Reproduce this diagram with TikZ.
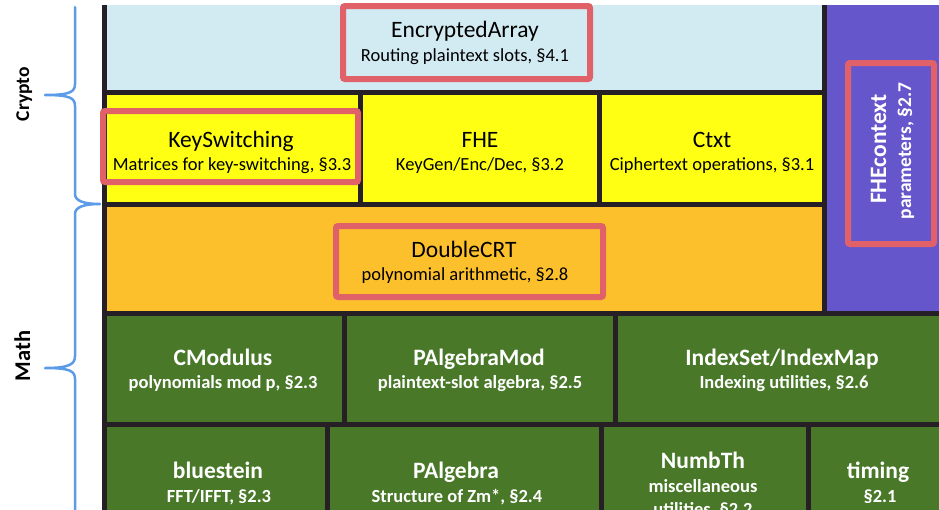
\documentclass[tikz,border=0pt]{standalone}
\usepackage{fontspec}
\setmainfont{Carlito}
\definecolor{dark}{RGB}{38,32,38}
\definecolor{lblue}{RGB}{210,234,242}
\definecolor{ylw}{RGB}{255,255,20}
\definecolor{orng}{RGB}{252,192,45}
\definecolor{purp}{RGB}{102,86,204}
\definecolor{grn}{RGB}{72,120,40}
\definecolor{redb}{RGB}{224,98,104}
\definecolor{brc}{RGB}{92,155,232}
\begin{document}
\begin{tikzpicture}[x=1pt,y=-1pt,
  blk/.style={draw=dark,line width=5pt},
  redbox/.style={draw=redb,line width=6pt,rounded corners=2pt},
  brace/.style={draw=brc,line width=2.5pt,line cap=round,line join=round},
  ttl/.style={anchor=base,inner sep=0pt,font=\fontsize{23.5}{28}\selectfont},
  sub/.style={anchor=base,inner sep=0pt,font=\fontsize{18.5}{22}\selectfont},
  wttl/.style={anchor=base,inner sep=0pt,text=white,font=\bfseries\fontsize{23.5}{28}\selectfont},
  wsub/.style={anchor=base,inner sep=0pt,text=white,font=\bfseries\fontsize{18.5}{22}\selectfont},
  lbl/.style={anchor=base,inner sep=0pt,rotate=90}]
\useasboundingbox (0,0) rectangle (939,509);
\begin{scope}
\clip (0,5) rectangle (939,509);
\draw[blk,fill=lblue] (104,-10) rectangle (824,92);
\draw[blk,fill=purp] (824,-10) rectangle (960,313);
\draw[blk,fill=ylw] (104,92) rectangle (360,204);
\draw[blk,fill=ylw] (360,92) rectangle (599,204);
\draw[blk,fill=ylw] (599,92) rectangle (824,204);
\draw[blk,fill=orng] (104,204) rectangle (824,313);
\draw[blk,fill=grn] (104,313) rectangle (344,424);
\draw[blk,fill=grn] (344,313) rectangle (615,424);
\draw[blk,fill=grn] (615,313) rectangle (960,424);
\draw[blk,fill=grn] (104,424) rectangle (327,530);
\draw[blk,fill=grn] (327,424) rectangle (601,530);
\draw[blk,fill=grn] (601,424) rectangle (808,530);
\draw[blk,fill=grn] (808,424) rectangle (960,530);
\end{scope}
% highlighted boxes
\draw[redbox] (343,6) rectangle (590,79);
\draw[redbox] (103,111) rectangle (358,182);
\draw[redbox] (336,226) rectangle (603,297);
\draw[redbox] (848,63) rectangle (934,244);
% braces
\draw[brace] (75,7) -- (75,84) .. controls (75,92) and (70,95) .. (45,95)
  .. controls (70,95) and (75,98) .. (75,106) -- (75,194)
  .. controls (75,201) and (84,204) .. (100,204)
  .. controls (84,204) and (75,207) .. (75,214) -- (75,356)
  .. controls (75,364) and (70,368) .. (45,368)
  .. controls (70,368) and (75,371) .. (75,379) -- (75,512);
\node[lbl,font=\bfseries\fontsize{19.5}{22}\selectfont] (crypto) at (29,94) {Crypto};
\node[lbl,font=\bfseries\fontsize{22.5}{26}\selectfont] (math) at (30,356) {Math};
% texts
\node[ttl] (ea) at (465,37) {EncryptedArray};
\node[sub] (eas) at (465,61) {Routing plaintext slots, §4.1};
\node[ttl] (ks) at (231,147) {KeySwitching};
\node[sub] (kss) at (232,170) {Matrices for key-switching, §3.3};
\node[ttl] (fhe) at (480,147) {FHE};
\node[sub] (fhes) at (480,170) {KeyGen/Enc/Dec, §3.2};
\node[ttl] (ctxt) at (712,147) {Ctxt};
\node[sub] (ctxts) at (712,170) {Ciphertext operations, §3.1};
\node[ttl] (dcrt) at (464,257) {DoubleCRT};
\node[sub] (dcrts) at (465,280) {polynomial arithmetic, §2.8};
\node[wttl,rotate=90] (ctx) at (886,149) {FHEcontext};
\node[wsub,rotate=90,font=\bfseries\fontsize{19.5}{22}\selectfont] (ctxs) at (911,151) {parameters, §2.7};
\node[wttl] (cmod) at (223,365) {CModulus};
\node[wsub] (cmods) at (223,388) {polynomials mod p, §2.3};
\node[wttl] (pam) at (479,365) {PAlgebraMod};
\node[wsub] (pams) at (480,388) {plaintext-slot algebra, §2.5};
\node[wttl] (idx) at (782,365) {IndexSet/IndexMap};
\node[wsub] (idxs) at (784,388) {Indexing utilities, §2.6};
\node[wttl] (blu) at (218,478) {bluestein};
\node[wsub] (blus) at (219,502) {FFT/IFFT, §2.3};
\node[wttl] (pa) at (456,478) {PAlgebra};
\node[wsub] (pas) at (457,502) {Structure of Zm*, §2.4};
\node[wttl] (nt) at (703,468) {NumbTh};
\node[wsub] (nts) at (703,492) {miscellaneous};
\node[wsub] (nts2) at (703,515) {utilities, §2.2};
\node[wttl] (tim) at (878,478) {timing};
\node[wsub] (tims) at (880,502) {§2.1};
\end{tikzpicture}
\end{document}
